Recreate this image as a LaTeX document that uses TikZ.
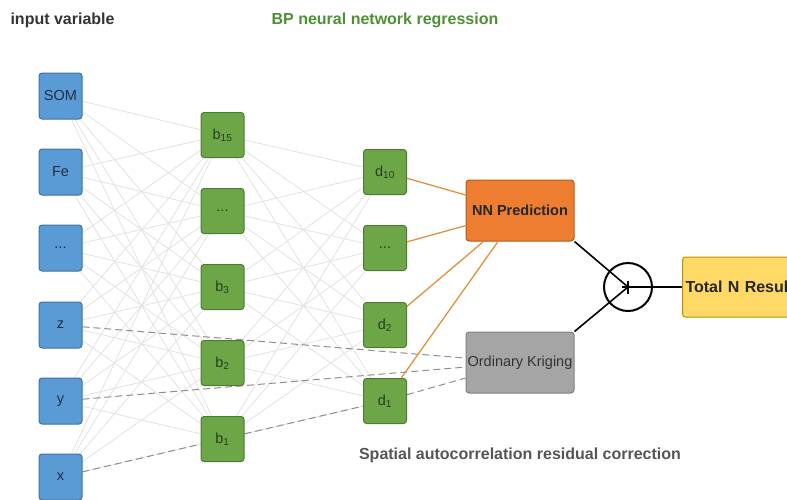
\documentclass[tikz,border=0pt]{standalone}
\usepackage{fontspec}
\setmainfont{Liberation Sans}
\usetikzlibrary{backgrounds}
\definecolor{bluef}{HTML}{5B9BD5}
\definecolor{blued}{HTML}{41719C}
\definecolor{greenf}{HTML}{6CA646}
\definecolor{greend}{HTML}{4E7A31}
\definecolor{orangef}{HTML}{ED7D31}
\definecolor{oranged}{HTML}{AE5A21}
\definecolor{grayf}{HTML}{A5A5A5}
\definecolor{grayd}{HTML}{7F7F7F}
\definecolor{yellowf}{HTML}{FFD966}
\definecolor{yellowd}{HTML}{BF9000}
\definecolor{titlegreen}{HTML}{4F8F35}
\definecolor{titlegray}{HTML}{333333}
\definecolor{subgray}{HTML}{555555}
\definecolor{linegray}{HTML}{E4E4E4}
\definecolor{dashgray}{HTML}{8E8E8E}
\definecolor{orangeline}{HTML}{E0913F}
\definecolor{bluetext}{HTML}{1F2F45}
\definecolor{greentext}{HTML}{2A3D1E}
\tikzset{
  box/.style={rectangle, rounded corners=3pt, line width=1pt, inner sep=1pt,
    font=\fontsize{14.5}{16}\selectfont},
  inbox/.style={box, fill=bluef, draw=blued, minimum width=43pt, minimum height=46pt, text=bluetext},
  hidbox/.style={box, fill=greenf, draw=greend, minimum width=43pt, minimum height=45pt, text=greentext},
  nnbox/.style={box, fill=orangef, draw=oranged, minimum width=108pt, minimum height=61pt,
    text=black!85, font=\fontsize{14.5}{16}\selectfont\bfseries},
  okbox/.style={box, fill=grayf, draw=grayd, minimum width=108pt, minimum height=61pt, text=titlegray},
  resbox/.style={box, fill=yellowf, draw=yellowd, minimum height=60pt, inner xsep=3pt,
    text width=118pt, align=left, text=black!85, font=\fontsize{16}{18}\selectfont\bfseries},
  sumnode/.style={circle, draw=black, line width=2pt, minimum size=48pt, inner sep=0pt},
  title/.style={font=\fontsize{16}{18}\selectfont\bfseries},
  weight/.style={draw=linegray, line width=0.9pt},
  resid/.style={draw=dashgray, line width=1pt, dash pattern=on 7pt off 4pt},
  toNN/.style={draw=orangeline, line width=1.3pt},
  sumline/.style={draw=black, line width=1.6pt},
}
\begin{document}
\begin{tikzpicture}[x=1pt,y=-1pt]
\useasboundingbox (0,0) rectangle (787,499);
\clip (0,0) rectangle (787,499);

% titles
\node[title, text=titlegray, anchor=west] (t1) at (7,20) {input variable};
\node[title, text=titlegreen] (t2) at (385,20) {BP neural network regression};
\node[title, text=subgray] (t3) at (520,455) {Spatial autocorrelation residual correction};

% input layer
\node[inbox] (som) at (60.5,96) {SOM};
\node[inbox] (fe) at (60.5,172) {Fe};
\node[inbox] (idots) at (60.5,248) {...};
\node[inbox] (z) at (60.5,325) {z};
\node[inbox] (y) at (60.5,401) {y};
\node[inbox] (x) at (60.5,477) {x};

% hidden layer 1
\node[hidbox] (b15) at (222.5,135) {b\textsubscript{15}};
\node[hidbox] (bdots) at (222.5,211) {...};
\node[hidbox] (b3) at (222.5,287) {b\textsubscript{3}};
\node[hidbox] (b2) at (222.5,363) {b\textsubscript{2}};
\node[hidbox] (b1) at (222.5,439) {b\textsubscript{1}};

% hidden layer 2
\node[hidbox] (d10) at (385,172) {d\textsubscript{10}};
\node[hidbox] (ddots) at (385,248) {...};
\node[hidbox] (d2) at (385,325) {d\textsubscript{2}};
\node[hidbox] (d1) at (385,401) {d\textsubscript{1}};

% outputs
\node[nnbox] (nn) at (520,210.5) {NN Prediction};
\node[okbox] (ok) at (520,362.5) {Ordinary Kriging};
\node[sumnode] (sum) at (628,287) {};
\node[resbox, anchor=west] (res) at (682,287) {Total N Result};

\begin{scope}[on background layer]
  \foreach \a in {som,fe,idots,z,y,x}
    \foreach \b in {b15,bdots,b3,b2,b1}
      \draw[weight] (\a) -- (\b);
  \foreach \a in {b15,bdots,b3,b2,b1}
    \foreach \b in {d10,ddots,d2,d1}
      \draw[weight] (\a) -- (\b);
  \draw[resid] (z) -- (ok);
  \draw[resid] (y) -- (ok);
  \draw[resid] (x) -- (b1);
  \draw[resid] (b1) -- (d1);
  \draw[resid] (d1) -- (ok);
\end{scope}

\foreach \a in {d10,ddots,d2,d1}
  \draw[toNN] (\a) -- (nn);

\draw[sumline] (nn.south east) -- (sum.center);
\draw[sumline] (ok.north east) -- (sum.center);
\draw[sumline] (sum.center) -- (res.west);
\draw[line width=2.6pt] ([yshift=-6.5pt]sum.center) -- ([yshift=6.5pt]sum.center);
\draw[line width=2.6pt] ([xshift=-6pt]sum.center) -- ([xshift=6pt]sum.center);
\end{tikzpicture}
\end{document}
